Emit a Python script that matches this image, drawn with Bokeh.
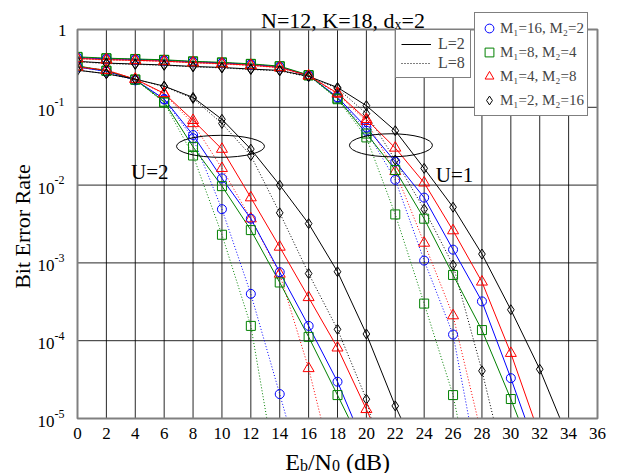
from math import pi
from bokeh.plotting import figure
from bokeh.models import Range1d, Label, Legend, LegendItem
from bokeh.core.properties import value
from bokeh.embed import file_html
from bokeh.resources import INLINE

# ---------------- data ----------------
snr_db = [0, 2, 4, 6, 8, 10, 12, 14, 16, 18, 20, 22, 24, 26, 28, 30, 32, 34, 36]
x_ticks = [0, 2, 4, 6, 8, 10, 12, 14, 16, 18, 20, 22, 24, 26, 28, 30, 32, 34, 36]
y_ticks = [1e-5, 1e-4, 1e-3, 1e-2, 1e-1, 1]
y_tick_exponents = ["-5", "-4", "-3", "-2", "-1"]
x_limits = [0, 36]
y_limits = [1e-5, 1]

# U = 2 (left group)
u2_m16_l2 = [0.33, 0.29, 0.225, 0.128, 0.044, 0.0122, 0.0037, 0.00076, 0.000155, 2.97e-5, 3.9e-6]
u2_m16_l8 = [0.33, 0.29, 0.222, 0.126, 0.040, 0.0049, 0.0004, 2.06e-5, 1.0e-6]
u2_m8_l2 = [0.34, 0.295, 0.228, 0.118, 0.031, 0.0097, 0.00264, 0.00056, 0.000112, 2.0e-5, 3.5e-6]
u2_m8_l8 = [0.34, 0.295, 0.226, 0.115, 0.024, 0.0023, 0.000155, 1.1e-6]
u2_m4_l2 = [0.33, 0.30, 0.23, 0.151, 0.068, 0.029, 0.0069, 0.0016, 0.00036, 8.1e-5, 1.31e-5, 2e-6]
u2_m4_l8 = [0.33, 0.30, 0.23, 0.148, 0.062, 0.0164, 0.0037, 0.00072, 4.4e-5, 1.4e-6]
u2_m2_l2 = [0.30, 0.27, 0.23, 0.187, 0.134, 0.070, 0.029, 0.010, 0.0032, 0.00077, 0.000122, 1.45e-5, 2.3e-6]
u2_m2_l8 = [0.30, 0.27, 0.23, 0.185, 0.13, 0.062, 0.024, 0.0044, 0.00073, 0.00014, 1.77e-5, 5.6e-7]

# U = 1 (right group)
u1_m16_l2 = [0.435, 0.42, 0.412, 0.402, 0.385, 0.372, 0.356, 0.332, 0.257, 0.135, 0.055, 0.020, 0.0069, 0.00148, 0.00032, 3.3e-5, 3e-6]
u1_m16_l8 = [0.43, 0.415, 0.408, 0.398, 0.38, 0.368, 0.352, 0.328, 0.255, 0.132, 0.050, 0.0117, 0.00107, 0.00012, 1.3e-6]
u1_m8_l2 = [0.445, 0.428, 0.418, 0.408, 0.39, 0.378, 0.362, 0.338, 0.26, 0.13, 0.046, 0.0156, 0.0037, 0.0007, 0.000137, 1.78e-5, 2e-6]
u1_m8_l8 = [0.44, 0.423, 0.414, 0.404, 0.386, 0.374, 0.358, 0.334, 0.256, 0.127, 0.041, 0.0042, 0.0003, 2.0e-5, 3e-7]
u1_m4_l2 = [0.425, 0.41, 0.402, 0.392, 0.376, 0.364, 0.348, 0.325, 0.255, 0.152, 0.070, 0.030, 0.0107, 0.0026, 0.00057, 6.9e-5, 6e-6]
u1_m4_l8 = [0.42, 0.405, 0.398, 0.388, 0.372, 0.36, 0.344, 0.322, 0.253, 0.148, 0.066, 0.015, 0.0018, 0.00021, 5.9e-6]
u1_m2_l2 = [0.39, 0.37, 0.36, 0.35, 0.335, 0.325, 0.31, 0.298, 0.25, 0.18, 0.105, 0.050, 0.0164, 0.0052, 0.0013, 0.00025, 4.3e-5, 5.4e-6]
u1_m2_l8 = [0.385, 0.365, 0.356, 0.346, 0.331, 0.321, 0.306, 0.294, 0.247, 0.175, 0.083, 0.021, 0.0049, 0.00094, 4.1e-5, 1.2e-6]

legend_L = ["L=2", "L=8"]
legend_M = ["M\u2081=16, M\u2082=2", "M\u2081=8, M\u2082=4", "M\u2081=4, M\u2082=8", "M\u2081=2, M\u2082=16"]

# annotations
ellipse_x = [9.9, 21.7]
ellipse_y = [0.0315, 0.0325]
group_label_x = [5.0, 26.1]
group_label_y = [0.0147, 0.0135]
group_labels = ["U=2", "U=1"]

# ---------------- layout (pixels) ----------------
W, H = 626, 473
FL, FR, FT, FB = 77, 597, 29, 418          # visible axes box in canvas pixels
px_per_db = (FR - FL) / (x_limits[1] - x_limits[0])
px_per_dec = (FB - FT) / 5.0
xr = Range1d(x_limits[0] - FL / px_per_db, x_limits[1] + (W - FR) / px_per_db)
yr = Range1d(10 ** (-5 - (H - FB) / px_per_dec), 10 ** (FT / px_per_dec))

FONT = "Liberation Serif"
p = figure(width=W, height=H, output_backend="svg", toolbar_location=None,
           x_range=xr, y_range=yr, y_axis_type="log",
           x_axis_location=None, y_axis_location=None,
           min_border=0, min_border_left=0, min_border_right=0, min_border_top=0, min_border_bottom=0)
p.background_fill_color = "white"
p.border_fill_color = "white"
p.outline_line_color = None
p.grid.grid_line_color = None

# grid lines from the tick arrays
n_x = len(x_ticks)
n_y = len(y_ticks)
p.segment(x0=x_ticks, y0=[y_limits[0]] * n_x, x1=x_ticks, y1=[y_limits[1]] * n_x,
          line_color="black", line_alpha=0.85, line_width=1)
p.segment(x0=[x_limits[0]] * n_y, y0=y_ticks, x1=[x_limits[1]] * n_y, y1=y_ticks,
          line_color="black", line_alpha=0.85, line_width=1)

colors = {"m16": "#0000ff", "m8": "#008000", "m4": "#ff0000", "m2": "#000000"}
markers = {"m16": ("circle", 9), "m8": ("square", 9), "m4": ("triangle", 11), "m2": ("diamond", 10)}
DOT = "1 2"

series = [
    ("u2_m16_l8", u2_m16_l8, "m16", DOT), ("u2_m8_l8", u2_m8_l8, "m8", DOT),
    ("u2_m4_l8", u2_m4_l8, "m4", DOT), ("u2_m2_l8", u2_m2_l8, "m2", DOT),
    ("u1_m16_l8", u1_m16_l8, "m16", DOT), ("u1_m8_l8", u1_m8_l8, "m8", DOT),
    ("u1_m4_l8", u1_m4_l8, "m4", DOT), ("u1_m2_l8", u1_m2_l8, "m2", DOT),
    ("u2_m16_l2", u2_m16_l2, "m16", "solid"), ("u2_m8_l2", u2_m8_l2, "m8", "solid"),
    ("u2_m4_l2", u2_m4_l2, "m4", "solid"), ("u2_m2_l2", u2_m2_l2, "m2", "solid"),
    ("u1_m16_l2", u1_m16_l2, "m16", "solid"), ("u1_m8_l2", u1_m8_l2, "m8", "solid"),
    ("u1_m4_l2", u1_m4_l2, "m4", "solid"), ("u1_m2_l2", u1_m2_l2, "m2", "solid"),
]
line_r, scat_r = {}, {}
for name, vals, key, dash in series:
    xs = snr_db[:len(vals)]
    line_r[name] = p.line(xs, vals, line_color=colors[key], line_width=1, line_dash=dash)
for name, vals, key, dash in series:
    xs = snr_db[:len(vals)]
    mk, sz = markers[key]
    scat_r[name] = p.scatter(xs, vals, marker=mk, size=sz, line_color=colors[key],
                             line_width=1, fill_color=None)

# white masks outside the axes box (curves end at the box edge as in the reference)
p.quad(left=[xr.start, x_limits[1], x_limits[0], x_limits[0]],
       right=[x_limits[0], xr.end, x_limits[1], x_limits[1]],
       bottom=[yr.start, yr.start, yr.start, y_limits[1]],
       top=[yr.end, yr.end, y_limits[0], yr.end],
       fill_color="white", line_color=None)
# axes box
p.quad(left=[x_limits[0]], right=[x_limits[1]], bottom=[y_limits[0]], top=[y_limits[1]],
       fill_color=None, line_color="#808080", line_width=2)

# ellipses
p.ellipse(x=ellipse_x, y=ellipse_y, width=[88, 83], height=[22, 23],
          width_units="screen", height_units="screen",
          fill_color=None, line_color="black", line_width=1)

# x tick labels
p.text(x=x_ticks, y=[y_limits[0]] * n_x, text=[str(t) for t in x_ticks], y_offset=9,
       text_font=value(FONT), text_font_size="17px", text_align="center", text_baseline="top",
       text_color="black")
# y tick labels: 10 with superscript exponent, "1" at top
p.text(x=[x_limits[0]] * (n_y - 1), y=y_ticks[:-1], text=["10"] * (n_y - 1), x_offset=-23, y_offset=3,
       text_font=value(FONT), text_font_size="17px", text_align="right", text_baseline="middle",
       text_color="black")
p.text(x=[x_limits[0]] * (n_y - 1), y=y_ticks[:-1], text=y_tick_exponents, x_offset=-23, y_offset=-5,
       text_font=value(FONT), text_font_size="12px", text_align="left", text_baseline="middle",
       text_color="black")
p.text(x=[x_limits[0]], y=[y_ticks[-1]], text=["1"], x_offset=-11, y_offset=1,
       text_font=value(FONT), text_font_size="17px", text_align="right", text_baseline="middle",
       text_color="black")


def lab(px, py, text, size, align="left", baseline="alphabetic", angle=0.0):
    p.add_layout(Label(x=px, y=H - py, x_units="screen", y_units="screen", text=text,
                       text_font=FONT, text_font_size=size, text_align=align,
                       text_baseline=baseline, angle=angle, text_color="black"))


# group labels
for gx, gy, gt in zip(group_label_x, group_label_y, group_labels):
    p.add_layout(Label(x=gx, y=gy, text=gt, text_font=FONT, text_font_size="21px",
                       text_align="center", text_baseline="middle", text_color="black"))

# title  N=12, K=18, d_x=2
lab(260.5, 20, "N=12, K=18, d", "22px")
lab(394.1, 24, "x", "14px")
lab(401.1, 20, "=2", "22px")

# y axis label
lab(22, 226, "Bit Error Rate", "22px", align="center", baseline="middle", angle=pi / 2)

# x axis label  E_b/N_0 (dB)
XB = 461
lab(284.7, XB, "E", "24px")
lab(299.4, XB + 4, "b", "16px")
lab(307.4, XB, "/N", "24px")
lab(331.4, XB + 4, "0", "16px")
lab(345.4, XB, "(dB)", "24px")

# legends
leg1 = Legend(items=[LegendItem(label=legend_L[0], renderers=[line_r["u1_m2_l2"]]),
                     LegendItem(label=legend_L[1], renderers=[line_r["u1_m2_l8"]])],
              location=(395, H - 78), orientation="vertical",
              label_text_font=FONT, label_text_font_size="16px",
              glyph_width=30, glyph_height=18, label_height=18, label_standoff=7,
              padding=5, spacing=1, margin=0,
              border_line_color="black", border_line_width=1,
              background_fill_color="white", background_fill_alpha=1.0)
p.add_layout(leg1)

leg2 = Legend(items=[LegendItem(label=legend_M[0], renderers=[scat_r["u2_m16_l2"]]),
                     LegendItem(label=legend_M[1], renderers=[scat_r["u2_m8_l2"]]),
                     LegendItem(label=legend_M[2], renderers=[scat_r["u2_m4_l2"]]),
                     LegendItem(label=legend_M[3], renderers=[scat_r["u2_m2_l2"]])],
              location=(474, H - 116), orientation="vertical",
              label_text_font=FONT, label_text_font_size="15px",
              glyph_width=22, glyph_height=24, label_height=18, label_standoff=-2,
              padding=3, spacing=-6, margin=0,
              border_line_color="black", border_line_width=1,
              background_fill_color="white", background_fill_alpha=1.0)
p.add_layout(leg2)

open("out.html", "w").write(file_html(p, INLINE))
